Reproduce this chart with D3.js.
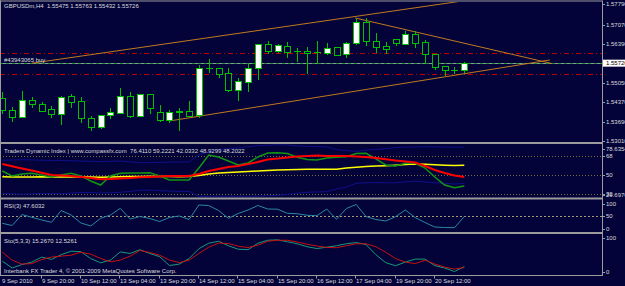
<!DOCTYPE html>
<html>
<head>
<meta charset="utf-8">
<script src="https://cdn.jsdelivr.net/npm/d3@7"></script>
<style>
  body { margin: 0; background: #03033a; overflow: hidden; }
  text { font-family: "Liberation Sans", Arial, sans-serif; font-size: 6px; fill: #dcdcdc; white-space: pre; }
</style>
</head>
<body>
<svg id="chart" width="625" height="286"></svg>
<script>
const svg = d3.select("#chart"),
    width = +svg.attr("width"),
    height = +svg.attr("height");

// GBPUSDm H4 candles, 9 Sep 04:00 .. 20 Sep 16:00
const bar_open  = [1.54500,1.54092,1.53858,1.54441,1.54311,1.54116,1.53952,1.54580,1.54406,1.53802,
                   1.53488,1.53917,1.53997,1.54590,1.53893,1.54639,1.54011,1.53743,1.54011,1.54074,
                   1.53917,1.55547,1.55547,1.55372,1.54789,1.55079,1.55567,1.56384,1.56150,1.56335,
                   1.56145,1.56150,1.56105,1.56065,1.56279,1.56035,1.56419,1.57152,1.56510,1.56325,
                   1.56558,1.56394,1.56743,1.56454,1.56040,1.55620,1.55487,1.55475];
const bar_high  = [1.54730,1.54207,1.54755,1.54535,1.54360,1.54242,1.54580,1.54650,1.54535,1.53893,
                   1.53930,1.54151,1.54849,1.54730,1.54650,1.54650,1.54266,1.54092,1.54151,1.54416,
                   1.55662,1.55861,1.55560,1.55560,1.55219,1.55686,1.56400,1.56510,1.56394,1.56475,
                   1.56255,1.56300,1.56499,1.56440,1.56285,1.56475,1.57267,1.57291,1.56789,1.56475,
                   1.56569,1.56848,1.56848,1.56534,1.56045,1.55627,1.55602,1.55763];
const bar_low   = [1.53976,1.53718,1.53837,1.54196,1.54057,1.53837,1.53593,1.54207,1.53683,1.53394,
                   1.53475,1.53802,1.53976,1.53858,1.53880,1.53976,1.53718,1.53683,1.53404,1.53865,
                   1.53858,1.55417,1.55243,1.54765,1.54441,1.54765,1.55173,1.56070,1.56115,1.55930,
                   1.55812,1.55372,1.55721,1.56060,1.56005,1.55930,1.56410,1.56360,1.56105,1.56080,
                   1.56360,1.56390,1.56300,1.55721,1.55512,1.55313,1.55372,1.55432];
const bar_close = [1.54092,1.53858,1.54441,1.54290,1.54067,1.53952,1.54556,1.54381,1.53802,1.53509,
                   1.53917,1.54011,1.54580,1.53893,1.54639,1.54172,1.53743,1.54011,1.54067,1.53893,
                   1.55547,1.55550,1.55365,1.54789,1.55103,1.55567,1.56394,1.56150,1.56349,1.56115,
                   1.56155,1.56070,1.56100,1.56272,1.56011,1.56419,1.57152,1.56510,1.56300,1.56209,
                   1.56419,1.56733,1.56440,1.56035,1.55602,1.55487,1.55480,1.55726];

const price_ticks = [1.57790,1.57070,1.56390,1.55050,1.54370,1.53690,1.53010];
const price_range = [1.53010, 1.57790];
const last_price = 1.55726;
const order_price = 1.55726;
const order_label = "#43943065 buy";
const sl_tp_prices = [1.56070, 1.55337];

// trendlines: [bar, price] anchors, ray = extends to the right
const trend_lines = [
    {b1: 3,    p1: 1.55724, b2: 40,   p2: 1.57558, ray: true},
    {b1: 17,   p1: 1.53708, b2: 55.7, p2: 1.55836, ray: false},
    {b1: 35.9, p1: 1.57302, b2: 55.9, p2: 1.55714, ray: false}
];

const time_labels = ["9 Sep 2010","9 Sep 20:00","10 Sep 12:00","13 Sep 04:00","13 Sep 20:00","14 Sep 12:00",
                     "15 Sep 04:00","15 Sep 20:00","16 Sep 12:00","17 Sep 04:00","19 Sep 20:00","20 Sep 12:00"];
const time_label_bars = [0,4,8,12,16,20,24,28,32,36,40,44];

// Traders Dynamic Index
const tdi_upper  = [64.0,64.2,64.5,64.3,64.0,63.8,63.8,63.5,63.2,63.0, 62.8,63.0,63.2,62.5,61.7,61.7,62.0,62.2,62.3,62.5,
                    69.3,72.0,74.0,75.0,75.8,76.8,77.8,78.2,78.64,78.4, 77.6,77.2,76.9,76.6,74.0,73.0,72.5,73.5,74.2,75.0,
                    76.0,76.4,76.6,76.8,76.7,76.5,76.4,76.41];
const tdi_lower  = [32.6,32.2,31.7,32.1,32.6,32.4,32.2,32.9,33.4,33.4, 33.0,33.2,33.6,34.5,35.5,35.7,35.2,34.8,34.5,34.5,
                    29.7,29.8,29.8,29.8,29.8,29.8,29.8,30.4,30.76,31.6, 32.8,33.6,33.9,34.2,36.8,38.6,42.1,42.7,42.8,42.6,
                    42.6,43.4,44.2,43.4,42.7,42.1,41.4,42.03];
const tdi_yellow = [48.3,48.2,48.1,48.2,48.3,48.1,48.0,48.2,48.3,48.2, 47.9,48.1,48.4,48.5,48.6,48.7,48.6,48.5,48.4,48.5,
                    49.5,50.9,51.9,52.4,52.8,53.3,53.8,54.3,54.7,55.0, 55.2,55.4,55.4,55.4,55.4,56.6,57.3,58.1,58.5,58.8,
                    59.3,59.9,60.4,60.1,59.7,59.3,58.9,59.22];
const tdi_green  = [53.8,49.1,50.9,51.6,50.0,48.1,50.0,51.6,49.1,44.3, 40.5,49.1,51.6,51.9,51.9,52.2,49.1,45.3,45.3,45.3,
                    56.6,68.9,67.1,63.3,59.5,61.4,67.1,70.8,71.1,70.4, 66.8,64.7,64.2,66.1,66.8,67.3,70.4,70.6,65.2,59.5,
                    58.5,61.1,61.1,56.6,48.1,40.5,38.0,39.6];
const tdi_red    = [60.4,58.3,56.2,54.2,52.1,50.0,49.5,49.1,48.1,47.2, 45.9,46.2,46.7,47.2,47.8,48.1,48.6,49.1,49.1,49.1,
                    50.9,53.8,55.7,57.6,58.5,60.4,62.3,64.7,65.6,66.6, 67.5,68.0,68.5,68.0,68.0,68.0,67.5,67.1,66.1,64.9,
                    63.7,62.8,61.8,58.5,54.7,51.9,49.5,48.2];
const tdi_levels = [68, 50, 32];
const tdi_title = "Traders Dynamic Index | www.compassfx.com  76.4110 59.2221 42.0332 48.9299 48.2022";

// RSI(3)
const rsi_values = [20.8,12,56,44.8,34,24.8,72,54,22,10, 40.8,54,80.8,38,48,40,28,44,50,36,
                    94,92,72,40.8,60,74,92,78,77.2,60.8, 59,53,51.2,78,36.8,80,96,48,36,30,
                    47.2,74,44,24,6,4,3.2,47.6];
const rsi_title = "RSI(3) 47.6032";

// Stochastic(5,3,3)
const sto_main   = [31.7,11,21.4,28.8,43.6,36.8,51,61.4,59.9,39.2, 26.7,34.7,59.3,54.6,65.9,54.6,45.1,18.4,22.8,39.2,
                    68.8,85.2,91.1,77.7,67.3,65.9,85.2,94.1,95.5,89.6, 83.7,74.8,69.4,73.3,77.7,83.7,87.2,81.3,51,27.3,
                    17.8,28.8,37.7,37.7,18.4,11,0.6,15.27];
const sto_signal = [58.4,34.7,22.8,24.3,36.2,43.6,46.6,49.5,58.4,52.5, 39.8,29.7,34.7,46.6,63.5,57.6,49.5,34.7,27.3,34.7,
                    54.6,73.3,85.7,84.3,76.3,72.4,79.2,91.1,94.1,94.1, 89,82.2,77.1,72.7,71.8,77.7,83.7,83.7,74.8,58.4,
                    39.2,28.8,24.3,34.7,22.8,13.9,8,12.53];
const sto_title = "Sto(5,3,3) 15.2670 12.5261";
const footer = "Interbank FX Trader 4, \u00a9 2001-2009 MetaQuotes Software Corp.";

const bg = "#03033a", frame = "#9c9c9c", candle_green = "#00c000";
const axis_x = 602;
const n = bar_close.length;

let x = d3.scaleLinear().domain([0, n - 1]).range([2.3, 2.3 + 9.83 * (n - 1)]);
let y_price = d3.scaleLinear().domain(price_range).range([141, 4]);
let y_tdi = d3.scaleLinear().domain([32, 68]).range([194, 156]);
let y_rsi = d3.scaleLinear().domain([0, 100]).range([228.5, 203.5]);
let y_sto = d3.scaleLinear().domain([0, 100]).range([271.7, 238.3]);

svg.append("rect").attr("width", width).attr("height", height).attr("fill", bg);

// clip regions for each window
const panels = [
    {id: "clip_main", top: 2, bottom: 142},
    {id: "clip_tdi", top: 144, bottom: 197.5},
    {id: "clip_rsi", top: 199.5, bottom: 232},
    {id: "clip_sto", top: 234, bottom: 275}
];
let defs = svg.append("defs");
panels.forEach(function (p) {
    defs.append("clipPath").attr("id", p.id)
        .append("rect").attr("x", 1).attr("y", p.top).attr("width", axis_x - 1).attr("height", p.bottom - p.top);
});

// ---------- main window ----------
let g_main = svg.append("g").attr("clip-path", "url(#clip_main)");
let py = v => Math.round(y_price(v)) + 0.5;

// bid line + order line
g_main.append("line").attr("x1", 0).attr("x2", axis_x).attr("y1", py(last_price)).attr("y2", py(last_price))
    .attr("stroke", "#8f96a8").attr("stroke-width", 1);
g_main.append("line").attr("x1", 0).attr("x2", axis_x).attr("y1", py(order_price)).attr("y2", py(order_price))
    .attr("stroke", "#1f9a2a").attr("stroke-width", 1).attr("stroke-dasharray", "3,3");

g_main.selectAll("line.sl").data(sl_tp_prices).enter().append("line")
    .attr("class", "sl")
    .attr("x1", 0).attr("x2", axis_x)
    .attr("y1", d => py(d)).attr("y2", d => py(d))
    .attr("stroke", "#c00000").attr("stroke-width", 1)
    .attr("stroke-dasharray", "5,3,1,3");

// trendlines
g_main.selectAll("line.trend").data(trend_lines).enter().append("line")
    .attr("class", "trend")
    .attr("x1", d => x(d.b1)).attr("y1", d => y_price(d.p1))
    .attr("x2", function (d) { return d.ray ? x(d.b1 + (d.b2 - d.b1) * 3) : x(d.b2); })
    .attr("y2", function (d) { return d.ray ? y_price(d.p1 + (d.p2 - d.p1) * 3) : y_price(d.p2); })
    .attr("stroke", "#c07a1c").attr("stroke-width", 1);

// candles
let candles = g_main.selectAll("g.candle").data(d3.range(n)).enter().append("g").attr("class", "candle");
candles.append("line")
    .attr("x1", i => Math.round(x(i)) + 0.5).attr("x2", i => Math.round(x(i)) + 0.5)
    .attr("y1", i => Math.round(y_price(bar_high[i]))).attr("y2", i => Math.round(y_price(bar_low[i])) + 1)
    .attr("stroke", candle_green).attr("stroke-width", 1);
candles.append("rect")
    .attr("x", i => Math.round(x(i)) - 2.5)
    .attr("width", 6)
    .attr("y", i => Math.round(y_price(Math.max(bar_open[i], bar_close[i]))) + 0.5)
    .attr("height", function (i) {
        let h = Math.round(y_price(Math.min(bar_open[i], bar_close[i]))) - Math.round(y_price(Math.max(bar_open[i], bar_close[i])));
        return Math.max(h, 0.01);
    })
    .attr("fill", i => bar_close[i] > bar_open[i] ? "#ffffff" : bg)
    .attr("stroke", candle_green).attr("stroke-width", 1);

svg.append("text").attr("x", 4).attr("y", 62).text(order_label);
svg.append("text").attr("x", 4).attr("y", 8.3)
    .text("GBPUSDm,H4  " + [bar_open[n - 1], bar_high[n - 1], bar_low[n - 1], bar_close[n - 1]].map(d => d.toFixed(5)).join(" "));

// ---------- TDI ----------
let g_tdi = svg.append("g").attr("clip-path", "url(#clip_tdi)");
g_tdi.selectAll("line.lvl").data(tdi_levels).enter().append("line")
    .attr("x1", 0).attr("x2", axis_x)
    .attr("y1", d => Math.round(y_tdi(d)) + 0.5).attr("y2", d => Math.round(y_tdi(d)) + 0.5)
    .attr("stroke", "#77703e").attr("stroke-dasharray", "1,2");

let tdi_line = d3.line().x((d, i) => x(i)).y(d => y_tdi(d));
[[tdi_upper, "#10108a", 1], [tdi_lower, "#10108a", 1], [tdi_yellow, "#ffff00", 1.5],
 [tdi_green, "#129612", 1.5], [tdi_red, "#ff0000", 2]].forEach(function (s) {
    g_tdi.append("path").attr("d", tdi_line(s[0])).attr("fill", "none")
        .attr("stroke", s[1]).attr("stroke-width", s[2]);
});
svg.append("text").attr("x", 4).attr("y", 152.5).text(tdi_title);

// ---------- RSI ----------
let g_rsi = svg.append("g").attr("clip-path", "url(#clip_rsi)");
g_rsi.append("line").attr("x1", 0).attr("x2", axis_x)
    .attr("y1", Math.round(y_rsi(50)) + 0.5).attr("y2", Math.round(y_rsi(50)) + 0.5)
    .attr("stroke", "#a49a78").attr("stroke-dasharray", "2,2");
g_rsi.append("path")
    .attr("d", d3.line().x((d, i) => x(i)).y(d => y_rsi(d))(rsi_values))
    .attr("fill", "none").attr("stroke", "#2b86a4").attr("stroke-width", 1);
svg.append("text").attr("x", 4).attr("y", 207.5).text(rsi_title);

// ---------- Stochastic ----------
let g_sto = svg.append("g").attr("clip-path", "url(#clip_sto)");
let sto_line = d3.line().x((d, i) => x(i)).y(d => y_sto(d));
g_sto.append("path").attr("d", sto_line(sto_main)).attr("fill", "none")
    .attr("stroke", "#169a78").attr("stroke-width", 1);
g_sto.append("path").attr("d", sto_line(sto_signal)).attr("fill", "none")
    .attr("stroke", "#c81010").attr("stroke-width", 1);
svg.append("text").attr("x", 4).attr("y", 242.5).text(sto_title);
svg.append("text").attr("x", 4).attr("y", 272.5).text(footer);

// ---------- frame ----------
svg.append("rect").attr("x", 0).attr("y", 0.5).attr("width", axis_x).attr("height", 1).attr("fill", frame);
svg.append("rect").attr("x", 0).attr("y", 0.5).attr("width", 1).attr("height", 275.5).attr("fill", frame);
[142, 197.5, 232].forEach(function (yy) {
    svg.append("rect").attr("x", 0).attr("y", yy).attr("width", axis_x).attr("height", 2).attr("fill", frame);
});
svg.append("rect").attr("x", 0).attr("y", 275).attr("width", axis_x + 1).attr("height", 1).attr("fill", frame);
svg.append("rect").attr("x", axis_x).attr("y", 0.5).attr("width", 1).attr("height", 275.5).attr("fill", frame);

// ---------- right axis ----------
function right_labels(values, scale, fmt) {
    let g = svg.append("g");
    g.selectAll("rect").data(values).enter().append("rect")
        .attr("x", axis_x + 1).attr("y", d => Math.round(scale(d))).attr("width", 2).attr("height", 1)
        .attr("fill", frame);
    g.selectAll("text").data(values).enter().append("text")
        .attr("x", axis_x + 4).attr("y", d => scale(d)).attr("dy", "0.36em")
        .text(fmt);
}
right_labels(price_ticks, y_price, d => d.toFixed(5));
svg.append("rect").attr("x", axis_x + 1).attr("y", y_price(last_price) - 3.5).attr("width", 22).attr("height", 7)
    .attr("fill", "#ffffff");
svg.append("text").attr("x", axis_x + 4).attr("y", y_price(last_price)).attr("dy", "0.36em")
    .style("fill", "#000000").text(last_price.toFixed(5));

right_labels([78.6354], d => 148.7, d => d.toFixed(4));
right_labels(tdi_levels, y_tdi, d => d);
right_labels([29.6976], d => 194.6, d => d.toFixed(4));
right_labels([100, 50, 0], y_rsi, d => d);
right_labels([100, 0], y_sto, d => d);

// ---------- time axis ----------
let g_time = svg.append("g");
g_time.selectAll("rect").data(time_label_bars.slice(1)).enter().append("rect")
    .attr("x", i => Math.round(x(i)) - 1).attr("y", 276).attr("width", 1).attr("height", 2.5)
    .attr("fill", frame);
g_time.selectAll("text").data(time_labels).enter().append("text")
    .attr("x", (d, i) => i === 0 ? 2 : Math.round(x(time_label_bars[i])))
    .attr("y", 283.3)
    .text(d => d);
</script>
</body>
</html>
